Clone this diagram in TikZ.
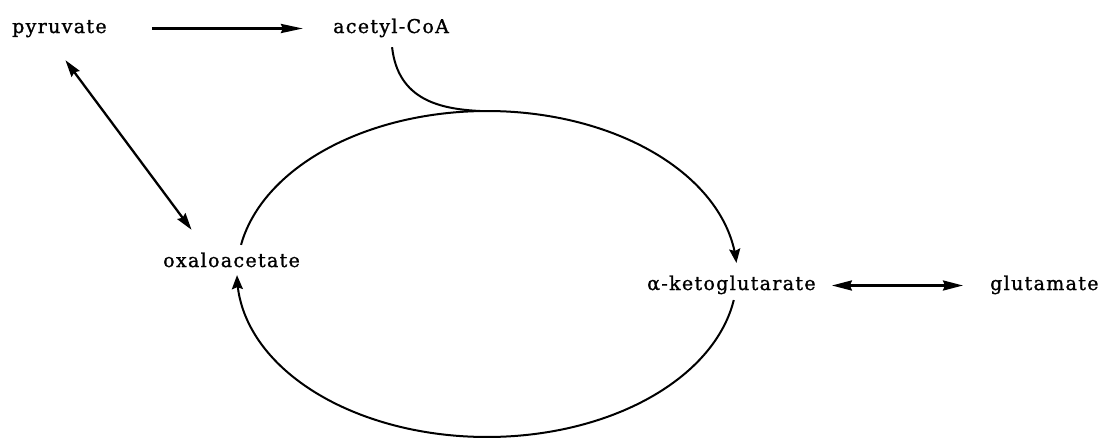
\documentclass[tikz,border=0pt]{standalone}
\usepackage{fontspec}
\newfontfamily\lblfont[LetterSpace=7,FakeBold=1.2]{DejaVu Serif}
\usetikzlibrary{arrows.meta,calc}
\begin{document}
\begin{tikzpicture}[x=1pt,y=-1pt,
  lbl/.style={inner sep=0pt,anchor=base west,text height=13pt,text depth=4pt,
    font=\lblfont\fontsize{19}{21}\selectfont},
  bigarrow/.style={line width=2.6pt,-{Stealth[length=22pt,width=9pt,inset=2pt]}},
  dblarrow/.style={line width=2.6pt,{Stealth[length=20pt,width=10pt,inset=2pt]}-{Stealth[length=20pt,width=10pt,inset=2pt]}},
  pvarrow/.style={line width=2.3pt,{Stealth[length=17pt,width=10pt,inset=2pt]}-{Stealth[length=17pt,width=10pt,inset=2pt]}},
  cyc/.style={line width=2pt},
  cycarrow/.style={line width=2pt,-{Stealth[length=14pt,width=11pt,inset=2pt]}}]
\useasboundingbox (0,0) rectangle (1101,439);
\fill[white] (0,0) rectangle (1101,439);

\node[lbl] (pyr) at (12,33) {pyruvate};
\node[lbl] (acetyl) at (333,33) {acetyl-CoA};
\node[lbl] (oxa) at (163,267) {oxaloacetate};
\node[lbl] (akg) at (647,290) {α-ketoglutarate};
\node[lbl] (glu) at (990,290) {glutamate};

% pyruvate -> acetyl-CoA
\draw[bigarrow,shorten <=45pt,shorten >=30pt] (pyr.east) -- (acetyl.west);
% pyruvate <-> oxaloacetate
\draw[pvarrow] ([shift={(6,23)}]pyr.south) -- ([shift={(-40,-24)}]oxa.north);
% alpha-ketoglutarate <-> glutamate
\draw[dblarrow,shorten <=16pt,shorten >=27pt] (akg.east) -- (glu.west);

% cycle
\coordinate (top) at (480,111);
\draw[cyc] ([shift={(1,10)}]acetyl.south) .. controls (398,100) and (440,109) .. (top);
\draw[cycarrow] plot[domain=169.7:3.9,samples=90,smooth] ({487+250*cos(\x)},{274-163*sin(\x)});
\draw[cycarrow] plot[domain=-9.2:-179.6,samples=90,smooth] ({487+250*cos(\x)},{274-163*sin(\x)});
\end{tikzpicture}
\end{document}
